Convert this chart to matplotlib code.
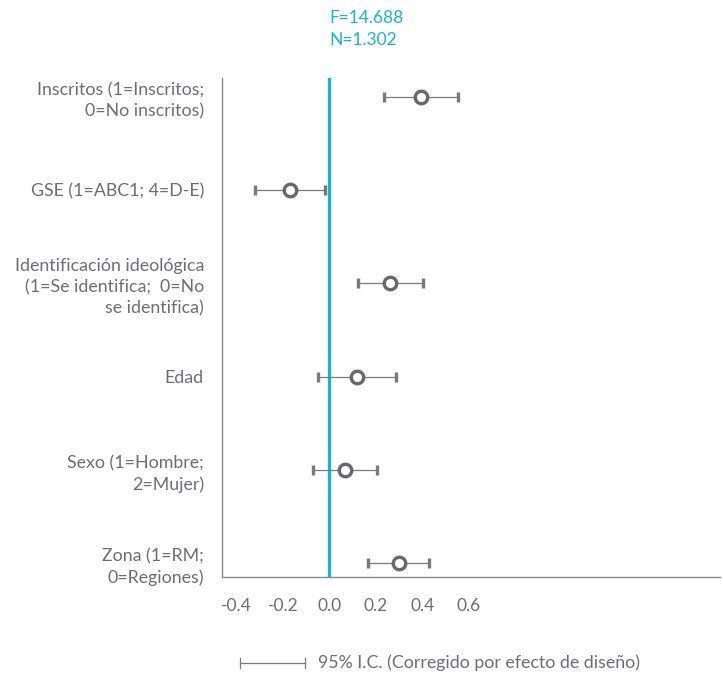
import matplotlib.pyplot as plt
from matplotlib import font_manager

labels = [
    "Inscritos (1=Inscritos;\n0=No inscritos)",
    "GSE (1=ABC1; 4=D-E)",
    "Identificación ideológica\n(1=Se identifica;  0=No\nse identifica)",
    "Edad",
    "Sexo (1=Hombre;\n2=Mujer)",
    "Zona (1=RM;\n0=Regiones)",
]
estimate = [0.396, -0.170, 0.262, 0.121, 0.068, 0.298]
ci_low = [0.235, -0.321, 0.122, -0.048, -0.069, 0.166]
ci_high = [0.554, -0.020, 0.402, 0.286, 0.206, 0.429]
xticks = [-0.4, -0.2, 0.0, 0.2, 0.4, 0.6]
title_lines = "F=14.688\nN=1.302"
legend_text = "95% I.C. (Corregido por efecto de diseño)"

names = {f.name for f in font_manager.fontManager.ttflist}
family = "Lato" if "Lato" in names else "DejaVu Sans"
plt.rcParams["font.family"] = [family, "DejaVu Sans"]

text_color = "#6d6e71"
cyan = "#1db4c9"
grey = "#7a7a7a"

fig = plt.figure(figsize=(7.23, 6.79), dpi=100)
ax = fig.add_axes([0.307, 0.150, 0.689, 0.735])

ypos = list(range(len(labels)))
xerr = [[e - lo for e, lo in zip(estimate, ci_low)],
        [hi - e for e, hi in zip(estimate, ci_high)]]

ax.axvline(0, color=cyan, lw=2.4, zorder=1)
ax.errorbar(estimate, ypos, xerr=xerr, fmt="o", color=grey, ecolor=grey,
            elinewidth=0.9, capsize=3.5, capthick=0.9, markersize=9,
            markerfacecolor="white", markeredgecolor="#68686a",
            markeredgewidth=2.4, zorder=3)

ax.set_xlim(-0.4635, 1.685)
ax.set_ylim(5.15, -0.2)
ax.set_yticks(ypos)
ax.set_yticklabels(labels, fontsize=12.8, color=text_color, linespacing=1.4)
ax.set_xticks(xticks)
ax.set_xticklabels([f"{t:.1f}" for t in xticks], fontsize=12.5, color=text_color)
ax.tick_params(axis="both", length=0)
ax.tick_params(axis="y", pad=13)
ax.tick_params(axis="x", pad=15)

for side in ["top", "right"]:
    ax.spines[side].set_visible(False)
for side in ["left", "bottom"]:
    ax.spines[side].set_color("#8a8a8a")
    ax.spines[side].set_linewidth(1.0)

# title above the zero line
fig.text(329 / 723, 1 - 29 / 679, title_lines, color=cyan, fontsize=12.5,
         ha="left", va="center", linespacing=1.4)

# legend: interval symbol and caption
leg_y = 1 - 663 / 679
fig.lines.append(plt.Line2D([240 / 723, 305 / 723], [leg_y, leg_y],
                            transform=fig.transFigure, color=grey, lw=0.9))
for xp in [240, 305]:
    fig.lines.append(plt.Line2D([xp / 723, xp / 723], [leg_y - 0.007, leg_y + 0.007],
                                transform=fig.transFigure, color=grey, lw=0.9))
fig.text(318 / 723, leg_y, legend_text, color=text_color, fontsize=12.8,
         ha="left", va="center")

fig.savefig("out.png", dpi=100)
